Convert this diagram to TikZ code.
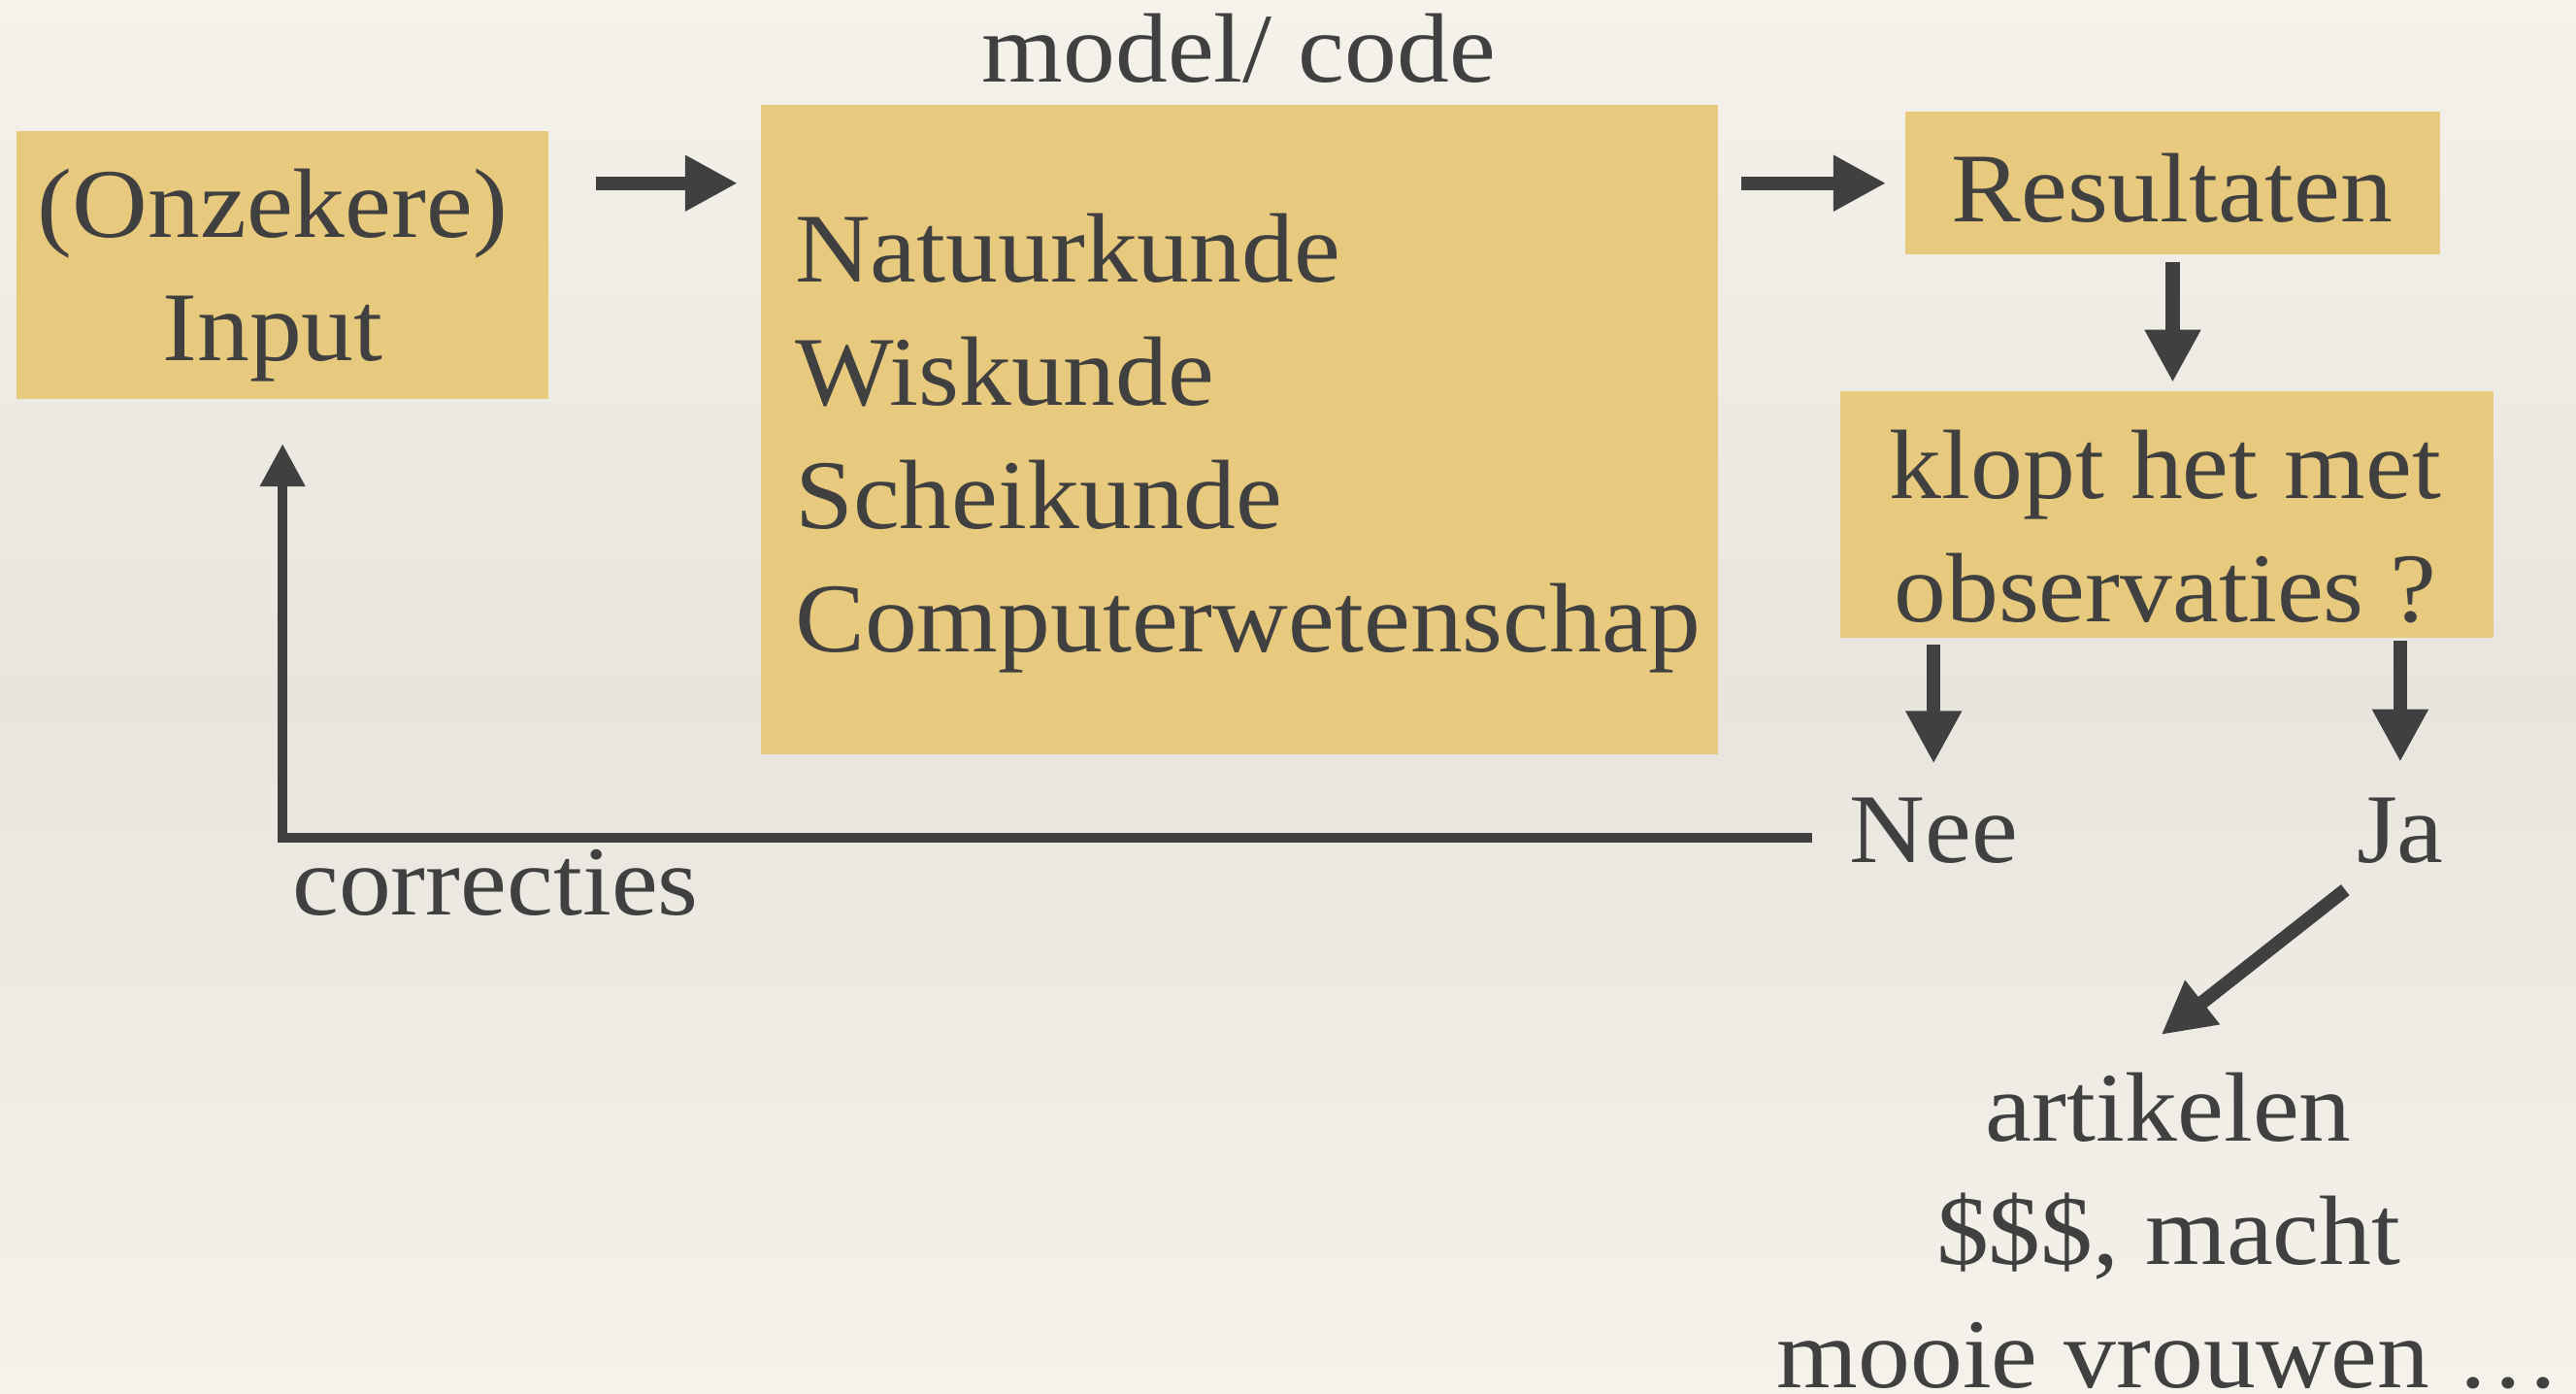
\documentclass[tikz,border=0pt]{standalone}
\usepackage{fontspec}
\setmainfont{Liberation Serif}[FakeStretch=1.06]
\usetikzlibrary{arrows.meta}

\definecolor{ink}{HTML}{404040}
\definecolor{boxfill}{HTML}{E8CA7E}
\definecolor{paperlight}{HTML}{F5F2EC}
\definecolor{paperdark}{HTML}{E8E5DF}

\tikzset{
  every node/.style={inner sep=0pt, outer sep=0pt, text=ink,
    font={\fontsize{60}{75}\selectfont}},
  panel/.style={fill=boxfill, draw=none},
  arr/.style={draw=ink, line width=8.3pt,
    -{Triangle[length=32pt,width=32pt]}},
  feedback/.style={draw=ink, line width=6pt,
    -{Triangle[length=26pt,width=26pt]}},
}

\begin{document}
\begin{tikzpicture}[x=1pt,y=-1pt]
  % paper background
  \shade[top color=paperlight, bottom color=paperlight, middle color=paperdark]
    (0,0) rectangle (1568,848);
  \useasboundingbox (0,0) rectangle (1568,848);

  % boxes
  \node[panel, minimum width=324pt, minimum height=163pt] (inp)   at (172,161.5) {};
  \node[panel, minimum width=583pt, minimum height=395pt] (model) at (754.5,261.5) {};
  \node[panel, minimum width=325pt, minimum height=87pt]  (res)   at (1322.5,111.5) {};
  \node[panel, minimum width=398pt, minimum height=150pt] (klopt) at (1319,313) {};

  % texts
  \node[anchor=base] (modelcode) at (754,50) {model/ code};
  \node[align=center] (inptext) at (166,167.5) {(Onzekere)\\Input};
  \node[align=left, anchor=west] (modeltext) at (484,269.5)
    {Natuurkunde\\Wiskunde\\Scheikunde\\Computerwetenschap};
  \node[anchor=base] (restext) at (1322,135) {Resultaten};
  \node[align=center] (klopttext) at (1318,320.5) {klopt het met\\observaties ?};
  \node[anchor=base] (nee) at (1177,525) {Nee};
  \node[anchor=base] (ja) at (1461,525) {Ja};
  \node[anchor=base west] (corr) at (178,557) {correcties};
  \node[align=center] (out) at (1320,749)
    {artikelen\\\$\$\$, macht\\mooie vrouwen \ldots};

  % connectors
  \draw[arr] ([xshift=29pt]inp.east |- res.west) -- ([xshift=-14pt]model.west |- res.west);
  \draw[arr] ([xshift=14pt]model.east |- res.west) -- ([xshift=-12pt]res.west);
  \draw[arr] ([yshift=-4.7pt]res.south) -- ([yshift=5.3pt]klopt.north -| res.south);
  \draw[arr] ([yshift=-4pt]klopt.south -| nee.north) -- ([yshift=21pt]nee.north);
  \draw[arr] ([yshift=-2pt]klopt.south -| ja.north) -- ([yshift=22pt]ja.north);
  \draw[feedback] ([shift={(-23pt,-4pt)}]nee.west) -| ([yshift=-27pt]inp.south);
  \draw[arr] ([shift={(-7pt,-16pt)}]ja.south west) -- ([shift={(-4.5pt,23pt)}]out.north);
\end{tikzpicture}
\end{document}
